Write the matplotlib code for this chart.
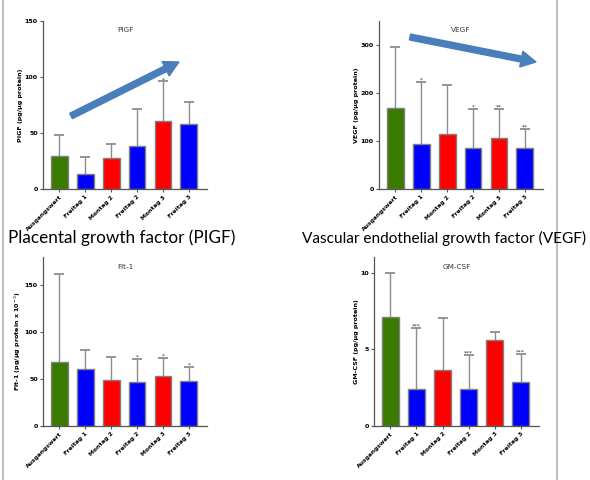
import numpy as np
import matplotlib
matplotlib.use("Agg")
import matplotlib.pyplot as plt
from matplotlib.patches import FancyArrow
from matplotlib.lines import Line2D
from matplotlib.transforms import IdentityTransform

groups = ["Ausgangswert", "Freitag 1", "Montag 2", "Freitag 2", "Montag 3", "Freitag 3"]
bar_colors = ["#3a7a00", "#0000ff", "#ff0000", "#0000ff", "#ff0000", "#0000ff"]

# PlGF
pigf_mean = [29.6, 13.6, 27.6, 38.5, 60.5, 58.0]
pigf_top = [48.3, 28.5, 40.0, 71.7, 96.0, 77.4]
pigf_sig = ["", "", "", "", "*", ""]

# VEGF
vegf_mean = [169.7, 95.0, 114.0, 85.0, 105.5, 85.0]
vegf_top = [296.0, 223.4, 217.0, 167.6, 167.6, 124.8]
vegf_sig = ["", "*", "", "*", "**", "**"]

# Flt-1
flt_mean = [68.0, 61.0, 48.8, 47.0, 53.4, 47.7]
flt_top = [162.4, 80.9, 73.4, 72.0, 72.7, 62.7]
flt_sig = ["", "", "", "*", "*", "*"]

# GM-CSF
gm_mean = [7.11, 2.39, 3.62, 2.39, 5.64, 2.84]
gm_top = [10.0, 6.38, 7.07, 4.64, 6.14, 4.71]
gm_sig = ["", "***", "", "***", "", "***"]

W, H = 590, 480
fig = plt.figure(figsize=(W / 100, H / 100), dpi=100)


def panel(rect, title, ylabel, mean, top, sig, ylim, yticks):
    ax = fig.add_axes(rect)
    x = np.arange(len(groups))
    mean = np.array(mean)
    top = np.array(top)
    ax.bar(x, mean, width=0.65, color=bar_colors, edgecolor="#808080",
           linewidth=1, zorder=2)
    err = [np.zeros_like(mean), top - mean]
    _, caps, bars = ax.errorbar(x, mean, yerr=err, fmt="none", ecolor="#8c8c8c",
                                elinewidth=1, capsize=3.8, capthick=1.3, zorder=1)
    caps[0].set_visible(False)
    caps[1].set_color("black")
    for xi, t, s in zip(x, top, sig):
        if s:
            ax.annotate(s, (xi, t), xytext=(0, -0.5), textcoords="offset points",
                        ha="center", va="bottom", fontsize=4.2, color="#333333")
    ax.set_xlim(-0.63, 5.7)
    ax.set_ylim(*ylim)
    ax.set_yticks(yticks)
    ax.set_xticks(x)
    ax.set_xticklabels(groups, rotation=45, ha="right", rotation_mode="anchor",
                       fontsize=4.3, fontweight="bold")
    for lab in ax.get_yticklabels():
        lab.set_fontsize(4.6)
        lab.set_fontweight("bold")
    ax.tick_params(axis="both", length=2.5, width=0.8, color="#555555", pad=1.2)
    for side in ["top", "right"]:
        ax.spines[side].set_visible(False)
    for side in ["left", "bottom"]:
        ax.spines[side].set_color("#555555")
        ax.spines[side].set_linewidth(0.9)
    ax.set_ylabel(ylabel, fontsize=4.6, fontweight="bold", labelpad=1)
    ax.text(0.5, 0.96, title, transform=ax.transAxes, ha="center", va="top",
            fontsize=5.2, color="#333333")
    return ax


panel([43 / W, 1 - 189.3 / H, 164 / W, 168.6 / H], "PIGF", "PIGF (pg/µg protein)",
      pigf_mean, pigf_top, pigf_sig, (0, 150), [0, 50, 100, 150])
panel([379 / W, 1 - 189.3 / H, 164 / W, 168.6 / H], "VEGF", "VEGF (pg/µg protein)",
      vegf_mean, vegf_top, vegf_sig, (0, 350), [0, 100, 200, 300])
panel([43 / W, 1 - 426 / H, 164 / W, 168.7 / H], "Flt-1",
      "Flt-1 (pg/µg protein x 10$^{-3}$)",
      flt_mean, flt_top, flt_sig, (0, 180), [0, 50, 100, 150])
panel([374 / W, 1 - 426 / H, 165 / W, 168.7 / H], "GM-CSF", "GM-CSF (pg/µg protein)",
      gm_mean, gm_top, gm_sig, (0, 11), [0, 5, 10])

# trend arrows (pixel coordinates)
for x0, y0, x1, y1 in [(71, H - 116, 179, H - 62), (410, H - 37, 536, H - 62)]:
    arr = FancyArrow(x0, y0, x1 - x0, y1 - y0, width=6, head_width=16,
                     head_length=15, length_includes_head=True,
                     color="#4a7ebb", transform=IdentityTransform())
    fig.add_artist(arr)

fig.text(8 / W, 1 - 238 / H, "Placental growth factor (PIGF)", fontsize=12.3,
         family="Lato", va="center", ha="left")
fig.text(302 / W, 1 - 238 / H, "Vascular endothelial growth factor (VEGF)", fontsize=11.1,
         family="Lato", va="center", ha="left")

# page borders
fig.add_artist(Line2D([3 / W, 3 / W], [0, 1], color="#bfbfbf", linewidth=1.5))
fig.add_artist(Line2D([557 / W, 557 / W], [0, 1], color="#bfbfbf", linewidth=1.5))

fig.savefig("out.png", dpi=100)
